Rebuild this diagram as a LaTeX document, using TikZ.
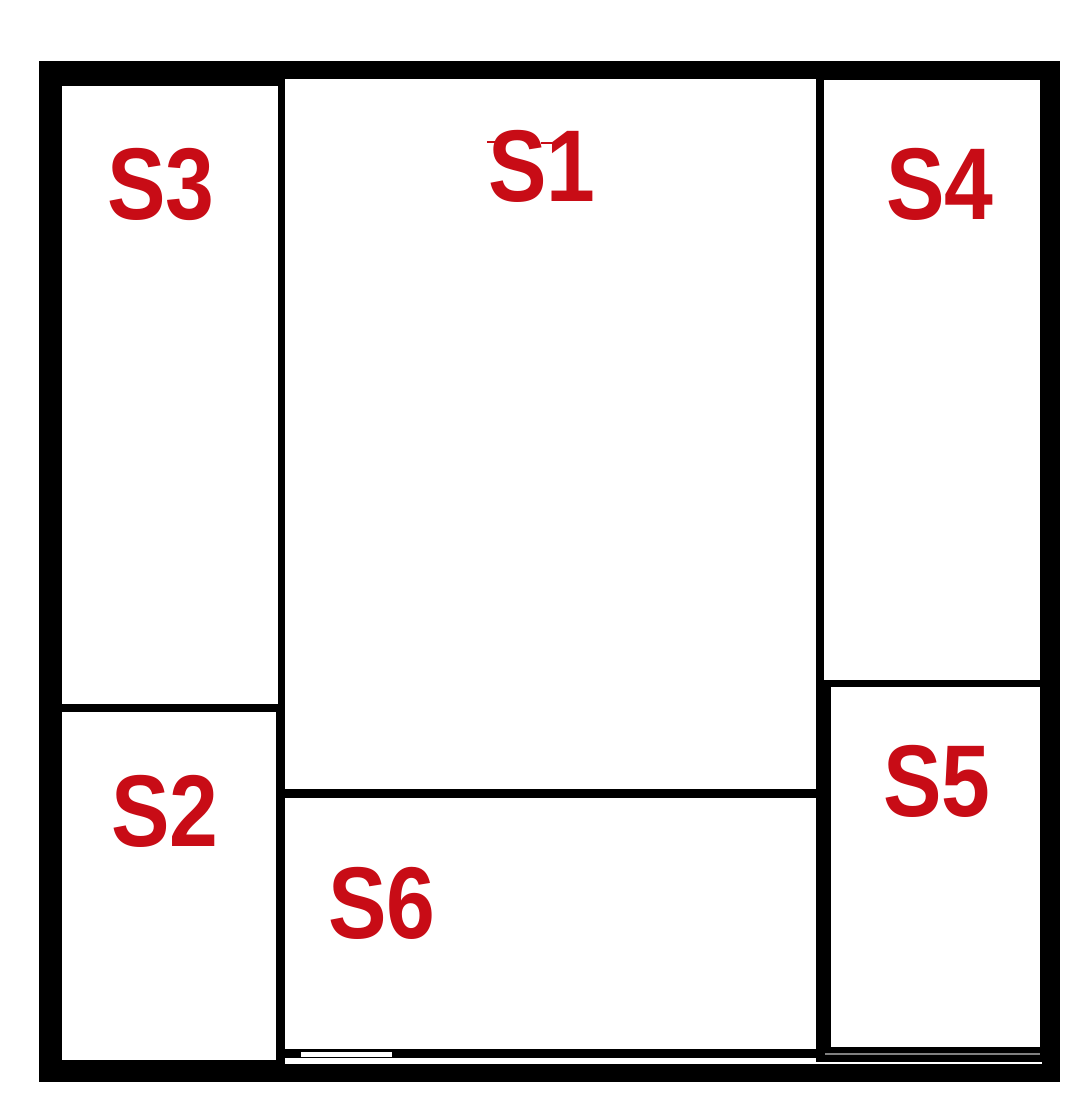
\documentclass[tikz,border=0pt]{standalone}
\usepackage{fontspec}
\newfontfamily\labelfont[FakeStretch=0.86]{Liberation Sans}
\definecolor{roomred}{RGB}{200,12,22}
\tikzset{
  room/.style={fill=white},
  tag/.style={text=roomred, font=\labelfont\bfseries\fontsize{29}{29}\selectfont, anchor=base, inner sep=0pt}
}

\begin{document}
\begin{tikzpicture}[x=0.01cm, y=-0.01cm]
  % 1 unit = 1 pixel of the plan, y runs downwards
  \useasboundingbox (0,0) rectangle (1080,1104);
  \fill[black] (39,61) rectangle (1060,1082);
  \fill[room] (62,86) rectangle (278,704);    % S3
  \fill[room] (62,712) rectangle (276,1060);  % S2
  \fill[room] (285,79) rectangle (816,789);   % S1
  \fill[room] (285,798) rectangle (816,1049); % S6
  \fill[room] (824,80) rectangle (1040,680);  % S4
  \fill[room] (831,687) rectangle (1040,1047); % S5
  % gaps along the bottom wall
  \fill[room] (301,1052) rectangle (392,1057);
  \fill[room] (285,1058) rectangle (816,1064);
  \fill[room] (816,1062) rectangle (1042,1064);
  \draw[gray, line width=0.3pt] (825,1054) -- (1040,1054);
  \draw[roomred, line width=0.4pt] (487,142) -- (499,142) (541,143) -- (552,143);
  \node[tag] (s3) at (161,220) {S3};
  \node[tag] (s1) at (542,202) {S1};
  \node[tag] (s4) at (940,220) {S4};
  \node[tag] (s2) at (165,846) {S2};
  \node[tag] (s5) at (937,816) {S5};
  \node[tag] (s6) at (382,938) {S6};
\end{tikzpicture}
\end{document}
